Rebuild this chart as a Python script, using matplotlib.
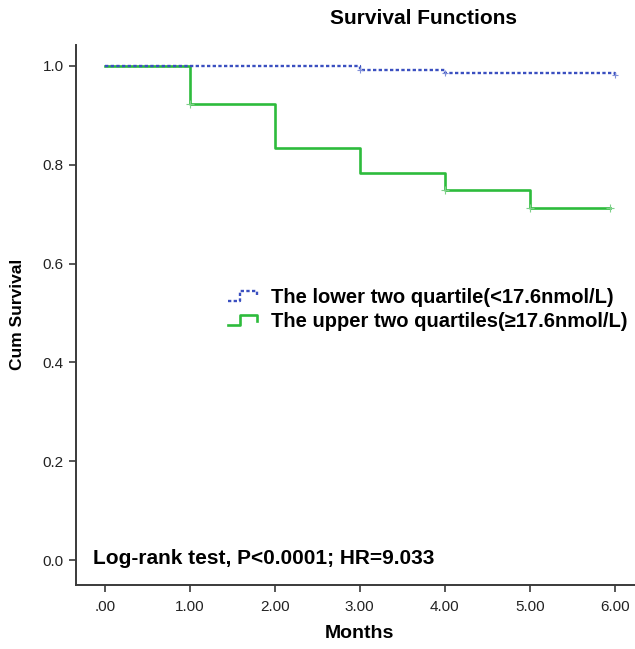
import matplotlib
matplotlib.use("Agg")
import matplotlib.pyplot as plt
from matplotlib.lines import Line2D
from matplotlib.legend_handler import HandlerBase

plt.rcParams["font.family"] = ["Liberation Sans", "DejaVu Sans"]

# data
low_times = [0, 3, 4, 6]
low_surv = [1.0, 0.992, 0.986, 0.982]
low_cens_t = [3, 4, 6]
low_cens_s = [0.992, 0.986, 0.982]

high_times = [0, 1, 2, 3, 4, 5, 5.95]
high_surv = [1.0, 0.923, 0.833, 0.783, 0.749, 0.713, 0.713]
high_cens_t = [1, 4, 5, 5.95]
high_cens_s = [0.923, 0.749, 0.713, 0.713]

x_ticks = [0, 1, 2, 3, 4, 5, 6]
x_labels = [".00", "1.00", "2.00", "3.00", "4.00", "5.00", "6.00"]
y_ticks = [0.0, 0.2, 0.4, 0.6, 0.8, 1.0]
y_labels = ["0.0", "0.2", "0.4", "0.6", "0.8", "1.0"]

labels = ["The lower two quartile(<17.6nmol/L)",
          "The upper two quartiles(\u226517.6nmol/L)"]

BLUE = "#3a4fc0"
GREEN = "#2dbb3c"
SPINE = "#3a3a3a"


class StepHandler(HandlerBase):
    # legend glyph: small step shape like SPSS
    def create_artists(self, legend, orig, xd, yd, width, height, fontsize, trans):
        xs = [0, 0.35, 0.35, 0.85, 0.85]
        ys = [0.1, 0.1, 0.9, 0.9, 0.45]
        ln = Line2D([-xd + x * width for x in xs],
                    [-yd + y * height for y in ys],
                    color=orig.get_color(), lw=orig.get_linewidth(),
                    linestyle=orig.get_linestyle())
        if orig.get_linestyle() != "-":
            ln.set_dashes((1.4, 1.0))
        ln.set_transform(trans)
        return [ln]


fig = plt.figure(figsize=(6.35, 6.49), dpi=100)
ax = fig.add_axes([76 / 635, 1 - 585 / 649, (635 - 76) / 635, (585 - 45) / 649])

ax.step(high_times, high_surv, where="post", color=GREEN, lw=1.9)
ax.plot(high_cens_t, high_cens_s, "+", color="#7fd08a", ms=6, mew=0.8)
ln_low, = ax.step(low_times, low_surv, where="post", color=BLUE, lw=1.7)
ln_low.set_dashes((1.4, 1.0))
ax.plot(low_cens_t, low_cens_s, "+", color="#8090d8", ms=4, mew=0.8)

ax.set_xlim(-0.34, 6.24)
ax.set_ylim(-0.0506, 1.0425)
ax.set_xticks(x_ticks)
ax.set_xticklabels(x_labels)
ax.set_yticks(y_ticks)
ax.set_yticklabels(y_labels)
ax.tick_params(direction="out", length=5, width=1.2, color=SPINE,
               labelsize=11, labelcolor="#222222", pad=4)
ax.tick_params(axis="x", pad=6)

for s in ["top", "right"]:
    ax.spines[s].set_visible(False)
for s in ["left", "bottom"]:
    ax.spines[s].set_color(SPINE)
    ax.spines[s].set_linewidth(1.4)

fig.text(359 / 635, 1 - 634 / 649, "Months", fontsize=14, fontweight="bold",
         ha="center", va="center")
fig.text(18 / 635, 1 - 314 / 649, "Cum Survival", fontsize=12.5,
         fontweight="bold", ha="center", va="center", rotation=90)
fig.text(424 / 635, 1 - 19 / 649, "Survival Functions", fontsize=15,
         fontweight="bold", ha="center", va="center")

ax.text(-0.14, 0.004, "Log-rank test, P<0.0001; HR=9.033", fontsize=15,
        fontweight="bold", ha="left", va="center")

h1 = Line2D([], [], color=BLUE, lw=1.7, linestyle=":")
h2 = Line2D([], [], color=GREEN, lw=1.9, linestyle="-")
fig.legend([h1, h2], labels, handler_map={Line2D: StepHandler()},
           loc="upper left", bbox_to_anchor=(228 / 635, 1 - 288 / 649),
           frameon=False, borderpad=0, borderaxespad=0, handlelength=1.7,
           handleheight=0.6, handletextpad=0.45, labelspacing=0.25,
           prop={"weight": "bold", "size": 14.5})

fig.savefig("out.png", dpi=100)
